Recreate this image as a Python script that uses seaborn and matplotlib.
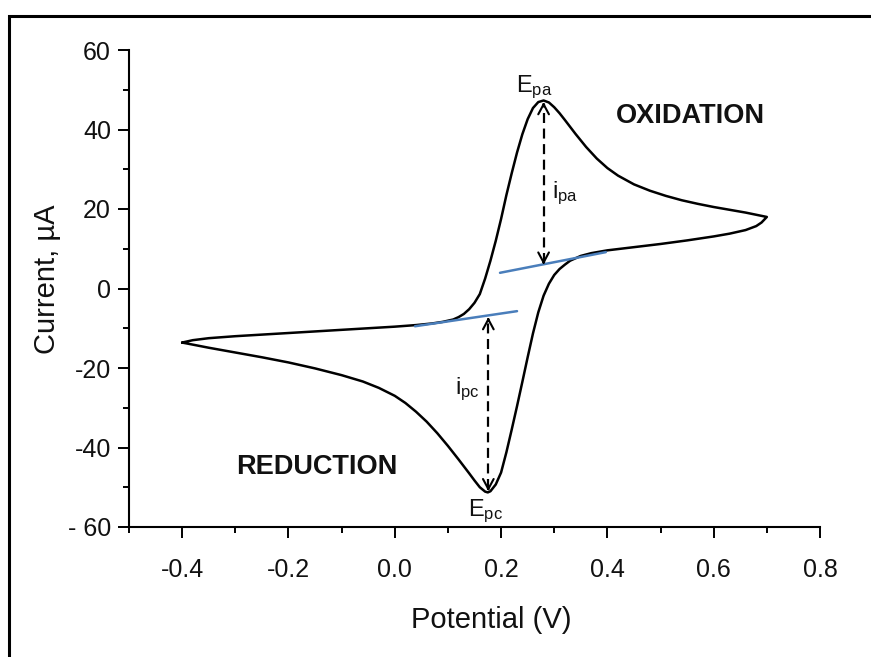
import numpy as np
import pandas as pd
import matplotlib
matplotlib.use("Agg")
import matplotlib.pyplot as plt
from matplotlib.patches import Rectangle
from matplotlib.ticker import MultipleLocator
import seaborn as sns

# forward (anodic) sweep, -0.4 V -> 0.7 V
fwd_potential = [-0.40, -0.38, -0.35, -0.30, -0.25, -0.20, -0.15, -0.10, -0.05, 0.00,
                 0.04, 0.07, 0.09, 0.11, 0.12, 0.13, 0.14, 0.15, 0.16, 0.17,
                 0.18, 0.19, 0.20, 0.21, 0.22, 0.23, 0.24, 0.25, 0.26, 0.27,
                 0.28, 0.29, 0.30, 0.31, 0.32, 0.34, 0.36, 0.38, 0.40, 0.42,
                 0.45, 0.48, 0.51, 0.54, 0.57, 0.60, 0.63, 0.66, 0.70]
fwd_current = [-13.6, -13.0, -12.5, -12.0, -11.6, -11.2, -10.8, -10.4, -10.0, -9.6,
               -9.2, -8.8, -8.4, -7.8, -7.2, -6.4, -5.2, -3.6, -1.4, 2.5,
               7.0, 12.0, 17.5, 23.5, 29.0, 34.2, 38.8, 42.6, 45.4, 46.9,
               47.3, 46.8, 45.6, 44.1, 42.4, 38.9, 35.6, 32.7, 30.3, 28.4,
               26.2, 24.6, 23.3, 22.2, 21.3, 20.5, 19.8, 19.1, 18.0]

# reverse (cathodic) sweep, 0.7 V -> -0.4 V
rev_potential = [0.70, 0.69, 0.68, 0.66, 0.63, 0.60, 0.55, 0.50, 0.45, 0.40,
                 0.37, 0.35, 0.33, 0.32, 0.31, 0.30, 0.29, 0.28, 0.27, 0.26,
                 0.25, 0.24, 0.23, 0.22, 0.21, 0.20, 0.19, 0.18, 0.175, 0.17,
                 0.16, 0.15, 0.14, 0.12, 0.10, 0.08, 0.06, 0.04, 0.02, 0.00,
                 -0.03, -0.06, -0.10, -0.15, -0.20, -0.25, -0.30, -0.35, -0.40]
rev_current = [18.0, 16.6, 15.7, 14.7, 13.8, 13.1, 12.1, 11.2, 10.4, 9.6,
               8.9, 8.2, 7.0, 6.0, 4.9, 3.4, 1.2, -1.8, -6.0, -11.3,
               -17.3, -23.5, -29.6, -35.5, -41.2, -46.3, -49.3, -51.0, -51.3, -51.1,
               -50.0, -48.3, -46.5, -43.0, -39.6, -36.4, -33.5, -31.0, -28.8, -27.0,
               -25.0, -23.4, -21.8, -20.1, -18.6, -17.3, -16.1, -14.9, -13.6]

# extrapolated baselines (blue)
base_ox_potential = [0.198, 0.397]
base_ox_current = [3.95, 9.15]
base_red_potential = [0.038, 0.23]
base_red_current = [-9.5, -5.7]

# peak current arrows: potential, top, bottom
ipa_arrow = (0.280, 46.9, 6.0)
ipc_arrow = (0.176, -7.2, -51.0)

x_ticks = [-0.4, -0.2, 0.0, 0.2, 0.4, 0.6, 0.8]
x_tick_labels = ["-0.4", "-0.2", "0.0", "0.2", "0.4", "0.6", "0.8"]
y_ticks = [-60, -40, -20, 0, 20, 40, 60]
y_tick_labels = ["- 60", "-40", "-20", "0", "20", "40", "60"]

sns.set_theme(style="ticks")
plt.rcParams['font.family'] = ['Liberation Sans', 'DejaVu Sans']
plt.rcParams['mathtext.fontset'] = 'custom'
plt.rcParams['mathtext.rm'] = 'Liberation Sans'

fig = plt.figure(figsize=(8.71, 6.57), dpi=100)
ax = fig.add_axes([129 / 871, 130 / 657, 691 / 871, 477 / 657])

cv = pd.DataFrame({
    "potential": fwd_potential + rev_potential[1:],
    "current": fwd_current + rev_current[1:],
})
sns.lineplot(data=cv, x="potential", y="current", sort=False, estimator=None,
             color="black", lw=1.8, ax=ax)

sns.lineplot(x=base_ox_potential, y=base_ox_current, color="#4a7ebb", lw=1.8, ax=ax)
sns.lineplot(x=base_red_potential, y=base_red_current, color="#4a7ebb", lw=1.8, ax=ax)

# dashed double arrows for peak currents
for v, top, bottom in [ipa_arrow, ipc_arrow]:
    ax.plot([v, v], [bottom + 0.5, top - 0.5], color="black", lw=1.6,
            dashes=(4.5, 2.5))
    for tip, tail in [(top, top - 1), (bottom, bottom + 1)]:
        ax.annotate("", xy=(v, tip), xytext=(v, tail),
                    arrowprops=dict(arrowstyle="->,head_length=0.6,head_width=0.32",
                                    lw=1.5, color="black", shrinkA=0, shrinkB=0))

txt = dict(color="#111111", fontsize=17)
ax.text(0.262, 50.6, r"$\mathregular{E_{pa}}$", ha="center", va="center", **txt)
ax.text(0.295, 24.0, r"$\mathregular{i_{pa}}$", ha="left", va="center", **txt)
ax.text(0.160, -25.3, r"$\mathregular{i_{pc}}$", ha="right", va="center", **txt)
ax.text(0.170, -56.0, r"$\mathregular{E_{pc}}$", ha="center", va="center", **txt)
ax.text(0.557, 43.5, "OXIDATION", ha="center", va="center", fontsize=19.5,
        fontweight="bold", color="#111111")
ax.text(-0.147, -45.0, "REDUCTION", ha="center", va="center", fontsize=19.5,
        fontweight="bold", color="#111111")

ax.set_xlim(-0.5, 0.8)
ax.set_ylim(-60, 60)
ax.set_xticks(x_ticks)
ax.set_xticklabels(x_tick_labels)
ax.set_yticks(y_ticks)
ax.set_yticklabels(y_tick_labels)
ax.xaxis.set_minor_locator(MultipleLocator(0.1))
ax.yaxis.set_minor_locator(MultipleLocator(10))
ax.tick_params(which="major", length=8, width=1.4, labelsize=18, color="black",
               labelcolor="#111111")
ax.tick_params(axis="x", which="major", pad=14)
ax.tick_params(axis="y", which="major", pad=5)
ax.tick_params(which="minor", length=4.5, width=1.4, color="black")

sns.despine(ax=ax)
for side in ["left", "bottom"]:
    ax.spines[side].set_linewidth(1.5)
    ax.spines[side].set_color("black")

ax.set_xlabel("Potential (V)", fontsize=21, color="#111111")
ax.set_ylabel("Current, \u00b5A", fontsize=21, color="#111111")
ax.xaxis.set_label_coords(0.524, -0.166)
ax.yaxis.set_label_coords(-0.098, 0.52)

# frame around the whole figure (right and bottom edges fall outside)
fig.add_artist(Rectangle((9 / 871, -0.05), 1.1, 0.05 + 1 - 15.5 / 657,
                         transform=fig.transFigure, fill=False,
                         edgecolor="black", lw=2.2))

fig.savefig("out.png", dpi=100, facecolor="white")
